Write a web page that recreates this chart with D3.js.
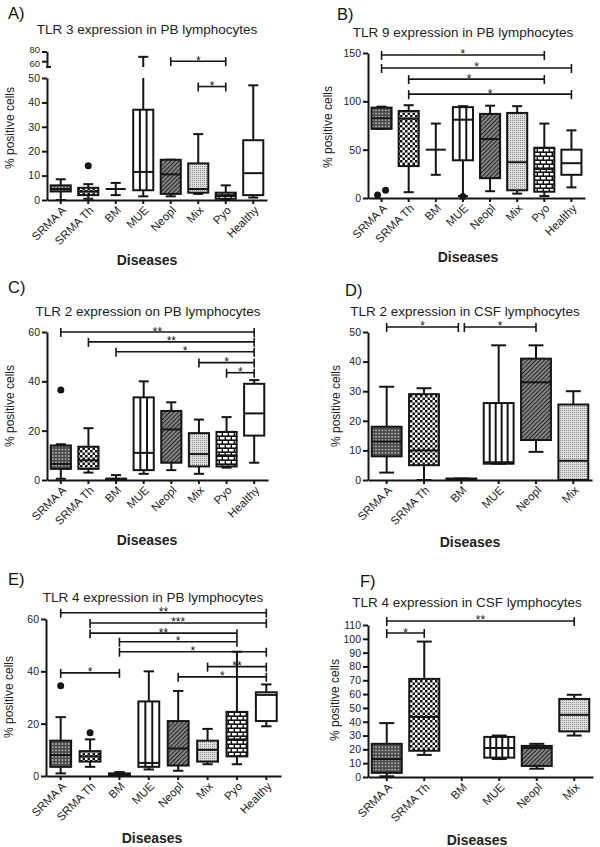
<!DOCTYPE html>
<html><head><meta charset="utf-8">
<script src="https://cdn.jsdelivr.net/npm/d3@7"></script>
<style>body{margin:0;background:#fff}svg{display:block;font-family:"Liberation Sans",Arial,sans-serif}</style>
</head><body>
<svg id="c" width="600" height="847"></svg>
<script>
// ---------------- DATA ----------------
const catsPB  = ["SRMA A","SRMA Th","BM","MUE","Neopl","Mix","Pyo","Healthy"];
const catsCSF = ["SRMA A","SRMA Th","BM","MUE","Neopl","Mix"];

// each box: [lower whisker, Q1, median, Q3, upper whisker]
const tlr3PB = [[0,3.5,4.5,6,8.5],[0.5,2,3.5,5,6.5],[2,4.5,4.5,4.5,7],[1.5,4,11.5,37,69],
                [1.5,2.5,10.5,16.5,16.5],[2.5,3,4.5,15,27],[0,0.5,2,3,6],[1,2,11,24.5,47]];
const tlr3PBOut = [[1,14]];                       // [category index, value]
const tlr3PBSig = [[4,6,"*",60],[5,6,"*",46.5]];  // [from, to, label, level]
const yTicksA = [0,10,20,30,40,50];
const yTicksAUpper = [60,80];

const tlr9PB = [[71.5,71.5,82.5,93.5,94.5],[6,33,82,90,96],[24,50,50,50,77],[2,39,81,94,95],
                [7,20.5,61,87,95.5],[4.5,8,37,88,95],[2,6.5,30,52,77],[11,24,36,50,70]];
const tlr9PBOut = [[0,3],[0,8],[3,1.5]];
const tlr9PBSig = [[0,6,"*",148],[0,7,"*",134.5],[1,6,"*",123],[1,7,"*",107.5]];
const yTicksB = [0,50,100,150];

const tlr2PB = [[0.5,4.5,6.5,14,14.5],[3,4.5,8,13.5,21],[0,0,0.5,0.5,2],[2.5,4,11,33.5,40],
                [4,7,20.5,28,31.5],[2.5,5.5,10.5,19,24.5],[5,5.5,10,19.5,25.5],[7,18,27,39,40.5]];
const tlr2PBOut = [[0,36.5]];
const tlr2PBSig = [[0,7,"**",60],[1,7,"**",56],[2,7,"*",52],[5,7,"*",47.6],[6,7,"*",43.5]];
const yTicksC = [0,20,40,60];

const tlr2CSF = [[2.5,8,13,18,31.5],[0,5,10,29,31],[0,0,0.3,0.5,0.5],[5.5,5.5,6,26,45.5],
                 [9.5,13.5,33,41,45.5],[0,0,6.5,25.5,30]];
const tlr2CSFOut = [];
const tlr2CSFSig = [[0,2,"*",51.7],[2,4,"*",51.7]];
const yTicksD = [0,10,20,30,40,50];

const tlr4PB = [[1,3.5,8,13.5,22.5],[3.5,5.5,7.5,9.5,14],[0,0,0.5,1,1.5],[2.5,3.5,5,28.5,40],
                [2,4,10.5,21,32.5],[4.5,5.5,10,13.5,18],[4.5,7.5,14,24.5,47.5],[19,21,31,32,35]];
const tlr4PBOut = [[0,34.5],[1,16.5]];
const tlr4PBSig = [[0,7,"**",62.4],[1,7,"***",58.5],[1,6,"**",54.6],[2,6,"*",51.3],[2,7,"*",47.5],
                   [5,7,"**",41.8],[4,7,"*",37.9],[0,2,"*",39.4]];
const yTicksE = [0,20,40,60];

const tlr4CSF = [[0.5,3,13,24,39],[16,19,43.5,71,98],null,[13,14,21,29,30],[6,8,21,22.5,24],[30,33,45,56.5,59.5]];
const tlr4CSFOut = [];
const tlr4CSFSig = [[0,5,"**",112.9],[0,1,"*",104.2]];
const yTicksF = [0,10,20,30,40,50,60,70,80,90,100,110];

// ---------------- PATTERNS ----------------
const svg = d3.select("#c");
const defs = svg.append("defs");
function pat(id,w,h,build,rot){
  const p = defs.append("pattern").attr("id",id).attr("patternUnits","userSpaceOnUse")
    .attr("width",w).attr("height",h);
  if(rot) p.attr("patternTransform",`rotate(${rot})`);
  build(p);
}
pat("pA",3.2,3.2,p=>{
  p.append("rect").attr("width",3.2).attr("height",3.2).attr("fill","#4a4a4a");
  p.append("rect").attr("x",0.8).attr("y",0.8).attr("width",1.6).attr("height",1.6).attr("fill","#b4b4b4");
});
pat("pTh",5,5,p=>{
  p.append("rect").attr("width",5).attr("height",5).attr("fill","#fff");
  p.append("rect").attr("width",2.5).attr("height",2.5).attr("fill","#111");
  p.append("rect").attr("x",2.5).attr("y",2.5).attr("width",2.5).attr("height",2.5).attr("fill","#111");
});
pat("pNeo",3,3,p=>{
  p.append("rect").attr("width",3).attr("height",3).attr("fill","#8a8a8a");
  p.append("rect").attr("width",1.1).attr("height",3).attr("fill","#222");
},45);
pat("pMix",2,2,p=>{
  p.append("rect").attr("width",2).attr("height",2).attr("fill","#dedede");
  p.append("rect").attr("width",1).attr("height",1).attr("fill","#8e8e8e");
});
pat("pPyo",12,8,p=>{
  p.append("rect").attr("width",12).attr("height",8).attr("fill","#111");
  [[1,1],[7,1],[-2,5],[4,5],[10,5]].forEach(([x,y])=>
    p.append("rect").attr("x",x).attr("y",y).attr("width",4.6).attr("height",2.4).attr("fill","#fff"));
});
const fillOf = {"SRMA A":"url(#pA)","SRMA Th":"url(#pTh)","BM":"#fff","MUE":"#fff",
                "Neopl":"url(#pNeo)","Mix":"url(#pMix)","Pyo":"url(#pPyo)","Healthy":"#fff"};

// ---------------- PANELS ----------------
const panels = [
 {letter:"A)",title:"TLR 3 expression in PB lymphocytes",cats:catsPB,stats:tlr3PB,out:tlr3PBOut,sig:tlr3PBSig,
  ticks:yTicksA,dom:[0,50],x0:47,x1:267,y0:200,yTop:78,frac:0.73,
  upper:{dom:[48,80],range:[67,51.5],ticks:yTicksAUpper},
  lp:[8,19],tp:[147,34],yl:[14,128],xl:[147,265]},
 {letter:"B)",title:"TLR 9 expression in PB lymphocytes",cats:catsPB,stats:tlr9PB,out:tlr9PBOut,sig:tlr9PBSig,
  ticks:yTicksB,dom:[0,150],x0:368,x1:585,y0:198,yTop:53,frac:0.74,
  lp:[337,20],tp:[463,37],yl:[332,127],xl:[468,262]},
 {letter:"C)",title:"TLR 2 expression on PB lymphocytes",cats:catsPB,stats:tlr2PB,out:tlr2PBOut,sig:tlr2PBSig,
  ticks:yTicksC,dom:[0,60],x0:47,x1:268,y0:480,yTop:332,frac:0.73,
  lp:[8,293],tp:[148,316],yl:[14,406],xl:[147,545]},
 {letter:"D)",title:"TLR 2 expression in CSF lymphocytes",cats:catsCSF,stats:tlr2CSF,out:tlr2CSFOut,sig:tlr2CSFSig,
  ticks:yTicksD,dom:[0,50],x0:368,x1:592,y0:480,yTop:332,frac:0.8,
  lp:[345,296],tp:[465,316],yl:[340,406],xl:[470,547]},
 {letter:"E)",title:"TLR 4 expression in PB lymphocytes",cats:catsPB,stats:tlr4PB,out:tlr4PBOut,sig:tlr4PBSig,
  ticks:yTicksE,dom:[0,60],x0:46,x1:281,y0:776,yTop:619,frac:0.71,
  lp:[8,585],tp:[153,602],yl:[13,697],xl:[152,843]},
 {letter:"F)",title:"TLR 4 expression in CSF lymphocytes",cats:catsCSF,stats:tlr4CSF,out:tlr4CSFOut,sig:tlr4CSFSig,
  ticks:yTicksF,dom:[0,110],x0:368,x1:593,y0:777,yTop:625,frac:0.8,
  lp:[360,587],tp:[467,607],yl:[339,700],xl:[477,845]}
];

const INK = "#151515";
function styleAxis(a,fs){
  a.selectAll("path.domain").attr("stroke",INK).attr("stroke-width",2);
  a.selectAll(".tick line").attr("stroke",INK).attr("stroke-width",2);
  a.selectAll(".tick text").attr("fill","#222").style("font-size",fs||"10.5px");
  a.attr("font-family",null);
}

panels.forEach(P=>{
  const g = svg.append("g");
  const x = d3.scaleBand().domain(P.cats).range([P.x0,P.x1]);
  const cx = i => x(P.cats[i]) + x.bandwidth()/2;
  const yL = d3.scaleLinear().domain(P.dom).range([P.y0,P.yTop]);
  const yU = P.upper ? d3.scaleLinear().domain(P.upper.dom).range(P.upper.range) : null;
  const Y = v => (yU && v > P.dom[1]) ? yU(v) : yL(v);
  const pieces = (a,b) => (yU && a < P.dom[1] && b > P.dom[1])
      ? [[yL(a),yL(P.dom[1])],[yU(P.upper.dom[0]),yU(b)]] : [[Y(a),Y(b)]];
  const bw = x.step()*P.frac, cw = bw*0.5;

  // texts
  svg.append("text").attr("x",P.lp[0]).attr("y",P.lp[1]).text(P.letter)
     .style("font-size","16.5px").attr("fill","#111");
  svg.append("text").attr("x",P.tp[0]).attr("y",P.tp[1]).attr("text-anchor","middle").text(P.title)
     .style("font-size","13.5px").attr("fill","#222");
  svg.append("text").attr("transform",`translate(${P.yl[0]},${P.yl[1]}) rotate(-90)`)
     .attr("text-anchor","middle").text("% positive cells").style("font-size","12px").attr("fill","#222");
  svg.append("text").attr("x",P.xl[0]).attr("y",P.xl[1]).attr("text-anchor","middle").text("Diseases")
     .style("font-size","14px").style("font-weight","bold").attr("fill","#222");

  // boxes
  P.stats.forEach((s,i)=>{
    if(!s) return;
    const c = cx(i);
    const [lo,q1,md,q3,hi] = s;
    [[lo,q1],[q3,hi]].forEach(([a,b])=>{
      if(b>a) pieces(a,b).forEach(([ya,yb])=>
        g.append("line").attr("x1",c).attr("x2",c).attr("y1",ya).attr("y2",yb)
         .attr("stroke",INK).attr("stroke-width",2));
    });
    [lo,hi].forEach(v=> g.append("line").attr("x1",c-cw/2).attr("x2",c+cw/2).attr("y1",Y(v)).attr("y2",Y(v))
         .attr("stroke",INK).attr("stroke-width",2));
    const top = Y(q3), h = Y(q1)-Y(q3);
    if(h>0){
      g.append("rect").attr("x",c-bw/2).attr("y",top).attr("width",bw).attr("height",h)
       .attr("fill",fillOf[P.cats[i]]).attr("stroke",INK).attr("stroke-width",2);
      if(P.cats[i]==="MUE"){
        const n = Math.max(3,Math.round(bw/6.5));
        for(let k=1;k<n;k++){
          const xx = c-bw/2 + bw*k/n;
          g.append("line").attr("x1",xx).attr("x2",xx).attr("y1",top).attr("y2",top+h)
           .attr("stroke",INK).attr("stroke-width",2);
        }
      }
    }
    g.append("line").attr("x1",c-bw/2).attr("x2",c+bw/2).attr("y1",Y(md)).attr("y2",Y(md))
     .attr("stroke",INK).attr("stroke-width",2);
  });

  // outliers (small jitter when two overlap)
  const placed = [];
  P.out.forEach(([i,v])=>{
    let c = cx(i); const yy = Y(v);
    const clash = placed.filter(p=>p.i===i && Math.abs(p.y-yy)<8);
    if(clash.length){ clash.forEach(p=>p.el.attr("cx",cx(i)-4)); c = cx(i)+4; }
    const el = g.append("circle").attr("cx",c).attr("cy",yy).attr("r",3.5).attr("fill",INK);
    placed.push({i,y:yy,el});
  });

  // significance bars
  const labs = [];
  P.sig.forEach(([a,b,lab,v])=>{
    let xa = cx(a), xb = cx(b);
    if(P.sig.some(s=>s[1]===a && s[3]===v)) xa += 3;
    if(P.sig.some(s=>s[0]===b && s[3]===v)) xb -= 3;
    const yy = Y(v);
    g.append("line").attr("x1",xa).attr("x2",xb).attr("y1",yy).attr("y2",yy).attr("stroke",INK).attr("stroke-width",1.6);
    [xa,xb].forEach(xx=> g.append("line").attr("x1",xx).attr("x2",xx).attr("y1",yy-4).attr("y2",yy+5)
       .attr("stroke",INK).attr("stroke-width",1.6));
    let lx = (xa+xb)/2;
    const w = lab.length*4.5;
    labs.forEach(L=>{ if(Math.abs(L.y-yy)<13 && Math.abs(L.x-lx)<(L.w+w)/2+2) lx = L.x - (L.w+w)/2 - 3; });
    labs.push({x:lx,y:yy,w});
    g.append("text").attr("x",lx).attr("y",yy+3.5).attr("text-anchor","middle").text(lab)
     .style("font-size","12px").attr("fill",INK);
  });

  // axes
  const ay = g.append("g").attr("transform",`translate(${P.x0},0)`)
     .call(d3.axisLeft(yL).tickValues(P.ticks).tickSize(5).tickSizeOuter(0).tickPadding(2));
  styleAxis(ay);
  if(yU){
    const au = g.append("g").attr("transform",`translate(${P.x0},0)`)
       .call(d3.axisLeft(yU).tickValues(P.upper.ticks).tickSize(5).tickSizeOuter(0).tickPadding(2));
    styleAxis(au,"9.5px");
    au.selectAll(".tick text").attr("dy",(d,i)=> i===0 ? "0.55em" : "0.15em");
    g.append("line").attr("x1",P.x0-1).attr("x2",P.x0+4).attr("y1",P.upper.range[0]).attr("y2",P.upper.range[0])
     .attr("stroke",INK).attr("stroke-width",2);
  }
  const ax = g.append("g").attr("transform",`translate(0,${P.y0})`)
     .call(d3.axisBottom(x).tickSize(4).tickSizeOuter(0));
  styleAxis(ax);
  ax.selectAll(".tick text").attr("x",0).attr("y",0).attr("dy",0).attr("text-anchor","end")
    .attr("transform","translate(6,11) rotate(-45)").style("font-size","11.5px");
});
</script>
</body></html>
